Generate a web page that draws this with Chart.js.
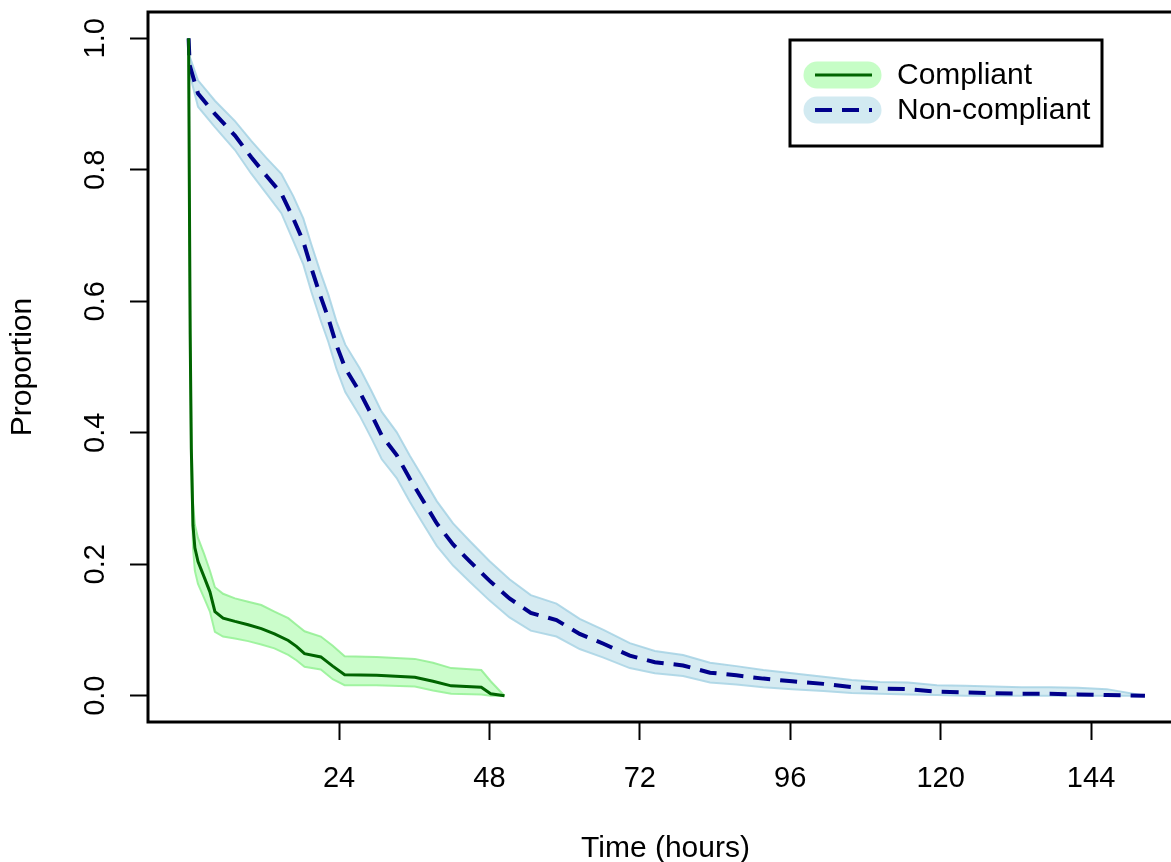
<!DOCTYPE html>
<html>
<head>
<meta charset="utf-8">
<script src="https://cdn.jsdelivr.net/npm/chart.js@4.4.1/dist/chart.umd.min.js"></script>
<style>
  html, body { margin: 0; padding: 0; background: #fff; overflow: hidden; }
  canvas { display: block; }
</style>
</head>
<body>
<canvas id="survChart" width="1190" height="862"></canvas>
<script>
// Time (hours) and proportion
const compliantTime  = [0, 0.1, 0.25, 0.43, 0.7, 1.0, 1.5, 2.5, 3.4, 4.2, 5.5, 7.4, 9.5, 11.6, 13.7, 15.9, 17.2, 18.5, 21.1, 23, 24.9, 30, 36.1, 39, 41.9, 46.7, 48.2, 50.4];
const compliantProp  = [1.0, 0.80, 0.55, 0.376, 0.259, 0.225, 0.204, 0.18, 0.158, 0.128, 0.118, 0.113, 0.108, 0.102, 0.094, 0.084, 0.075, 0.064, 0.059, 0.045, 0.032, 0.031, 0.028, 0.022, 0.015, 0.013, 0.003, 0.0];
const compliantUpper = [1.0, 0.82, 0.58, 0.41, 0.295, 0.26, 0.24, 0.215, 0.19, 0.165, 0.155, 0.148, 0.143, 0.138, 0.128, 0.118, 0.108, 0.098, 0.09, 0.076, 0.06, 0.059, 0.056, 0.05, 0.042, 0.039, 0.022, 0.0];
const compliantLower = [1.0, 0.78, 0.52, 0.34, 0.225, 0.19, 0.17, 0.148, 0.128, 0.097, 0.09, 0.087, 0.083, 0.078, 0.072, 0.062, 0.054, 0.044, 0.04, 0.025, 0.016, 0.016, 0.014, 0.008, 0.003, 0.002, 0.0, 0.0];

const nonCompliantTime  = [0, 0.17, 1.5, 4.2, 7.4, 10.0, 12.4, 14.8, 16.7, 18.3, 19.6, 21.0, 22.3, 23.6, 25.0, 27.3, 29.2, 30.8, 33.2, 35.3, 37.2, 39.6, 42.2, 44.9, 48.0, 51.2, 54.6, 58.7, 62.4, 66.2, 70.4, 74.4, 78.9, 83.2, 87.4, 91.7, 96.3, 101.3, 105.8, 110.3, 114.8, 119.4, 123.9, 128.4, 132.9, 137.4, 141.9, 146.5, 152.6];
const nonCompliantProp  = [1.0, 0.959, 0.916, 0.885, 0.852, 0.819, 0.791, 0.764, 0.726, 0.691, 0.650, 0.609, 0.574, 0.533, 0.498, 0.462, 0.427, 0.396, 0.366, 0.330, 0.300, 0.262, 0.230, 0.204, 0.175, 0.148, 0.126, 0.115, 0.094, 0.079, 0.061, 0.051, 0.046, 0.035, 0.031, 0.026, 0.022, 0.018, 0.013, 0.011, 0.010, 0.006, 0.005, 0.004, 0.003, 0.003, 0.002, 0.001, 0.0];
const nonCompliantUpper = [1.0, 0.972, 0.936, 0.905, 0.874, 0.844, 0.818, 0.794, 0.760, 0.726, 0.686, 0.645, 0.610, 0.569, 0.534, 0.498, 0.463, 0.432, 0.401, 0.365, 0.335, 0.296, 0.262, 0.235, 0.205, 0.177, 0.153, 0.140, 0.117, 0.100, 0.080, 0.068, 0.062, 0.050, 0.045, 0.039, 0.034, 0.029, 0.024, 0.021, 0.020, 0.016, 0.015, 0.014, 0.013, 0.013, 0.012, 0.010, 0.0];
const nonCompliantLower = [1.0, 0.946, 0.896, 0.865, 0.830, 0.794, 0.764, 0.734, 0.692, 0.656, 0.614, 0.573, 0.538, 0.497, 0.462, 0.426, 0.391, 0.360, 0.331, 0.295, 0.265, 0.228, 0.198, 0.173, 0.145, 0.119, 0.099, 0.090, 0.071, 0.058, 0.042, 0.034, 0.030, 0.020, 0.017, 0.013, 0.010, 0.007, 0.004, 0.003, 0.002, 0.001, 0.0, 0.0, 0.0, 0.0, 0.0, 0.0, 0.0];

const xTickValues = [24, 48, 72, 96, 120, 144];
const yTickValues = [0, 0.2, 0.4, 0.6, 0.8, 1.0];

const FONT = "'Liberation Sans', Arial, Helvetica, sans-serif";

function pts(xs, ys) {
    return xs.map((x, i) => ({ x: x, y: ys[i] }));
}

// no extra room for overhanging tick labels, R puts the box where it wants
function noPad(scale) {
    scale.paddingTop = 0;
    scale.paddingBottom = 0;
    scale.paddingLeft = 0;
    scale.paddingRight = 0;
}

// box around the plot region + R style legend
const frameAndLegend = {
    id: 'frameAndLegend',
    afterDatasetsDraw(chart) {
        const ctx = chart.ctx;
        const a = chart.chartArea;
        ctx.save();
        ctx.strokeStyle = '#000';
        ctx.lineWidth = 3;
        ctx.strokeRect(a.left, a.top, a.right - a.left, a.bottom - a.top);

        // legend
        const lx = 790, ly = 40, lw = 312, lh = 106;
        ctx.fillStyle = '#fff';
        ctx.fillRect(lx, ly, lw, lh);
        ctx.strokeRect(lx, ly, lw, lh);
        const items = chart.data.datasets.filter(d => d.label);
        items.forEach((d, i) => {
            const cy = 75 + i * 35;
            ctx.lineCap = 'round';
            ctx.setLineDash([]);
            ctx.strokeStyle = d.legendBand;
            ctx.lineWidth = 27;
            ctx.beginPath();
            ctx.moveTo(817, cy);
            ctx.lineTo(868, cy);
            ctx.stroke();
            ctx.lineCap = 'butt';
            ctx.strokeStyle = d.borderColor;
            ctx.lineWidth = d.borderWidth;
            ctx.setLineDash(d.borderDash || []);
            ctx.beginPath();
            ctx.moveTo(815, cy);
            ctx.lineTo(872, cy);
            ctx.stroke();
            ctx.setLineDash([]);
            ctx.fillStyle = '#000';
            ctx.font = '30px ' + FONT;
            ctx.textBaseline = 'middle';
            ctx.textAlign = 'left';
            ctx.fillText(d.label, 897, cy + 1);
        });
        ctx.restore();
    }
};

const greenBand = 'rgba(152, 251, 152, 0.5)';
const greenEdge = 'rgba(140, 238, 140, 0.8)';
const blueBand = 'rgba(173, 216, 230, 0.5)';
const blueEdge = 'rgba(160, 208, 226, 0.8)';

const data = {
    datasets: [
        {
            data: pts(compliantTime, compliantUpper),
            borderColor: greenEdge, borderWidth: 2,
            backgroundColor: greenBand,
            fill: { target: '+1', above: greenBand, below: greenBand },
            order: 3
        },
        {
            data: pts(compliantTime, compliantLower),
            borderColor: greenEdge, borderWidth: 2,
            fill: false,
            order: 3
        },
        {
            data: pts(nonCompliantTime, nonCompliantUpper),
            borderColor: blueEdge, borderWidth: 2,
            backgroundColor: blueBand,
            fill: { target: '+1', above: blueBand, below: blueBand },
            order: 2
        },
        {
            data: pts(nonCompliantTime, nonCompliantLower),
            borderColor: blueEdge, borderWidth: 2,
            fill: false,
            order: 2
        },
        {
            label: 'Compliant',
            data: pts(compliantTime, compliantProp),
            borderColor: '#006400', borderWidth: 3,
            legendBand: 'rgba(152, 251, 152, 0.55)',
            fill: false,
            order: 0
        },
        {
            label: 'Non-compliant',
            data: pts(nonCompliantTime, nonCompliantProp),
            borderColor: '#00008B', borderWidth: 4,
            borderDash: [17, 10],
            legendBand: 'rgba(173, 216, 230, 0.55)',
            fill: false,
            order: 1
        }
    ]
};

const config = {
    type: 'line',
    data: data,
    options: {
        responsive: false,
        animation: false,
        elements: { point: { radius: 0, hoverRadius: 0 }, line: { tension: 0 } },
        layout: { padding: { top: 12, right: 7, left: 0, bottom: 0 } },
        plugins: { legend: { display: false }, tooltip: { enabled: false } },
        scales: {
            x: {
                type: 'linear',
                min: -6.48,
                max: 158.67,
                afterBuildTicks: scale => { scale.ticks = xTickValues.map(v => ({ value: v })); },
                afterFit: scale => { scale.height = 140; noPad(scale); },
                grid: { drawOnChartArea: false, tickLength: 18, tickColor: '#000', tickWidth: 2 },
                border: { display: false },
                ticks: {
                    color: '#000', padding: 22, maxRotation: 0,
                    font: { family: FONT, size: 29 },
                    callback: v => String(v)
                },
                title: {
                    display: true, text: 'Time (hours)', color: '#000',
                    font: { family: FONT, size: 30, lineHeight: 0.88 },
                    padding: { top: 0, bottom: 0 }
                }
            },
            y: {
                type: 'linear',
                min: -0.04,
                max: 1.04,
                afterBuildTicks: scale => { scale.ticks = yTickValues.map(v => ({ value: v })); },
                afterFit: scale => { scale.width = 148; noPad(scale); },
                grid: { drawOnChartArea: false, tickLength: 18, tickColor: '#000', tickWidth: 2 },
                border: { display: false },
                ticks: {
                    color: '#000', padding: 14, minRotation: 90, maxRotation: 90,
                    crossAlign: 'center',
                    font: { family: FONT, size: 29 },
                    callback: v => v.toFixed(1)
                },
                title: {
                    display: true, text: 'Proportion', color: '#000',
                    font: { family: FONT, size: 30, lineHeight: 1 },
                    padding: { top: 8, bottom: 0 }
                }
            }
        }
    },
    plugins: [frameAndLegend]
};

const ctx = document.getElementById('survChart').getContext('2d');
new Chart(ctx, config);
</script>
</body>
</html>
